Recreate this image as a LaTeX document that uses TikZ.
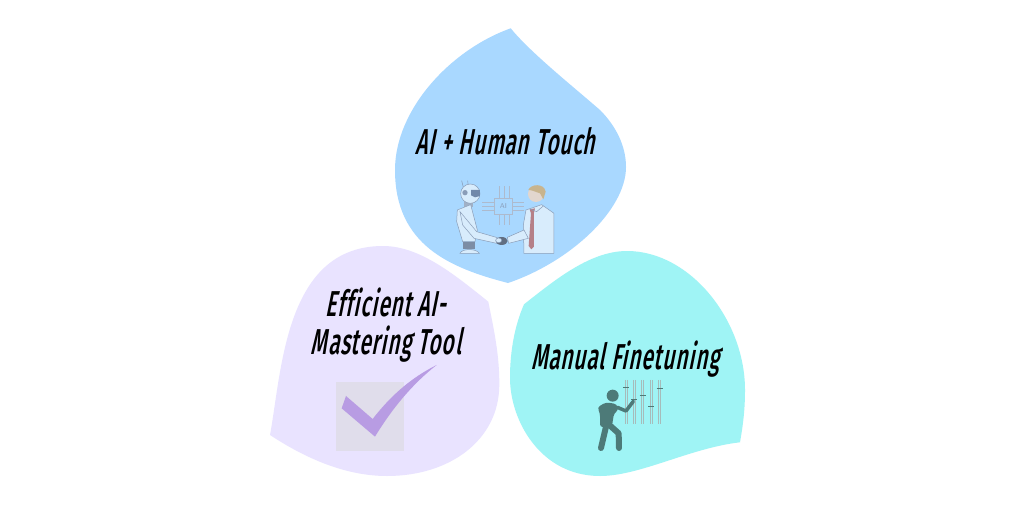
\documentclass[tikz,border=0pt]{standalone}
\usepackage{fontspec}
\newfontfamily\labelfont[FakeSlant=0.2,FakeStretch=0.58,Ligatures=NoCommon,LetterSpace=2.5]{Fira Sans Medium}
\definecolor{petalblue}{HTML}{A9D8FF}
\definecolor{petalviolet}{HTML}{E9E3FF}
\definecolor{petalcyan}{HTML}{9FF4F5}
\definecolor{checkviolet}{HTML}{B89CE3}
\definecolor{checkgrey}{HTML}{E0DDEB}
\definecolor{figgreen}{HTML}{4D7A78}
\definecolor{robotline}{HTML}{8A9DB8}
\definecolor{robotfill}{HTML}{D8ECFC}
\definecolor{hairtan}{HTML}{C8B48E}
\definecolor{faceskin}{HTML}{E2D6CE}
\definecolor{tiered}{HTML}{B58088}
\tikzset{
	petallabel/.style={font=\labelfont\fontsize{36pt}{38pt}\selectfont,text=black,align=center,inner sep=0pt},
	zoomed/.style={x=0.3333pt,y=-0.3333pt},
	line/.style={draw=robotline,line width=0.5pt},
	trace/.style={draw=robotline!70,line width=0.4pt},
	slider/.style={draw=figgreen!50,line width=0.6pt},
	knob/.style={draw=figgreen,line width=1.5pt},
	limb/.style={draw=figgreen,line cap=round,line join=round,line width=6pt}
}
\begin{document}
\begin{tikzpicture}[x=1pt,y=-1pt]
	\useasboundingbox (0,0) rectangle (1024,524);
	\fill[white] (0,0) rectangle (1024,524);

	% petals
	\fill[petalblue] (510.7,28.3) .. controls (530,52) and (570,84) .. (600,110)
		.. controls (615,125) and (626,145) .. (626,167)
		.. controls (626,210) and (570,262) .. (508,283)
		.. controls (450,268) and (395,245) .. (395,170)
		.. controls (395,110) and (450,50) .. (510.7,28.3) -- cycle;
	\fill[petalviolet] (270,435) .. controls (282,370) and (285,246) .. (383,246)
		.. controls (420,246) and (455,275) .. (488.3,301.7)
		.. controls (494,330) and (499.5,355) .. (499.3,385)
		.. controls (499,440) and (450,476) .. (387,476)
		.. controls (345,476) and (305,458) .. (270,435) -- cycle;
	\fill[petalcyan] (524,304.3) .. controls (515,325) and (510,350) .. (510,378)
		.. controls (510,420) and (540,476) .. (600,476)
		.. controls (640,476) and (690,448) .. (740,442.3)
		.. controls (743,425) and (745,410) .. (745,390)
		.. controls (745,320) and (690,251) .. (627,251)
		.. controls (590,251) and (555,280) .. (524,304.3) -- cycle;

	% labels
	\node[petallabel] (touch) at (505.5,141) {AI + Human Touch};
	\node[petallabel] (tool) at (386,325) {Efficient AI-\\Mastering Tool};
	\node[petallabel] (finetuning) at (625.5,359) {Manual Finetuning};

	% robot and man
	\begin{scope}[shift={(400pt,-110pt)},zoomed]
		\draw[trace] (283,265) rectangle (337,312);
		\node[font=\sffamily\fontsize{7pt}{8pt}\selectfont,text=robotline,inner sep=0pt] (chip) at (310,289) {AI};
		\foreach \xa in {297,312,327} {
			\draw[trace] (\xa,265) -- (\xa,228);
			\draw[trace] (\xa,312) -- (\xa,345);
		}
		\foreach \ya in {276,289,301} {
			\draw[trace] (283,\ya) -- (245,\ya);
			\draw[trace] (337,\ya) -- (372,\ya);
		}
		% robot
		\draw[line] (185,212) -- (190,232) (203,212) -- (205,228);
		\fill[robotline!80] (192,268) rectangle (220,290);
		\draw[line,fill=robotfill] (211,251) circle (29);
		\fill[robotline!120] (213,240) -- (240,240) -- (240,258) -- (225,262) -- (213,256) -- cycle;
		\fill[robotline] (195,248) circle (8);
		\draw[line,fill=robotfill] (172,300) -- (212,284) -- (232,360) -- (225,395) -- (188,395) -- (170,335) -- cycle;
		\fill[robotline!90!black] (190,395) rectangle (225,416);
		\draw[line,fill=robotfill] (180,430) .. controls (185,415) and (230,415) .. (238,430) -- cycle;
		\draw[line,fill=robotfill] (180,305) -- (230,365) -- (292,383) -- (290,400) -- (222,385) -- (188,345) -- cycle;
		% man
		\draw[line,fill=robotfill] (372,430) -- (370,345) -- (378,300) -- (425,284) -- (462,310) -- (462,430) -- cycle;
		\draw[line,fill=robotfill] (372,360) -- (322,382) -- (326,400) -- (385,385) -- cycle;
		\fill[faceskin] (408,252) circle (24);
		\fill[hairtan] (385,240) .. controls (392,222) and (432,218) .. (437,245) -- (430,268) -- (420,250) .. controls (405,245) and (395,240) .. (385,240) -- cycle;
		\fill[tiered] (389,298) -- (405,295) -- (402,308) -- (402,410) -- (394,418) -- (386,408) -- (393,310) -- cycle;
		\draw[line] (389,297) -- (410,305) -- (430,288);
		% hands
		\fill[robotline!70!black] (305,393) ellipse (18 and 12);
		\draw[line,fill=robotfill] (296,391) ellipse (9 and 7);
	\end{scope}

	% check mark
	\fill[checkgrey] (335.7,382.3) rectangle (404,451);
	\begin{scope}[shift={(300pt,-280pt)},zoomed]
		\fill[checkviolet] (138,348) -- (218,417) .. controls (270,350) and (330,295) .. (410,255)
			.. controls (340,310) and (280,380) .. (225,470) -- (125,385) -- cycle;
	\end{scope}

	% sliders and figure
	\begin{scope}[shift={(520pt,-330pt)},zoomed]
		\foreach \xa/\ya in {318/172,343/208,368/197,394/230,419/175} {
			\draw[slider] (\xa-3,150) -- (\xa-3,282) (\xa+3,150) -- (\xa+3,282);
			\draw[knob] (\xa-9,\ya) -- (\xa+9,\ya);
		}
		\fill[figgreen] (278,197) circle (18);
		\fill[figgreen,rounded corners=3pt] (232,232) -- (258,217) -- (290,222) -- (296,240) -- (282,250) -- (276,288) -- (240,292) -- (240,250) -- cycle;
		\draw[limb,line width=3.5pt] (292,232) -- (318,243) -- (340,214);
		\draw[limb] (258,290) -- (243,354);
		\draw[limb] (268,285) -- (296,310) -- (297,354);
	\end{scope}
\end{tikzpicture}
\end{document}
